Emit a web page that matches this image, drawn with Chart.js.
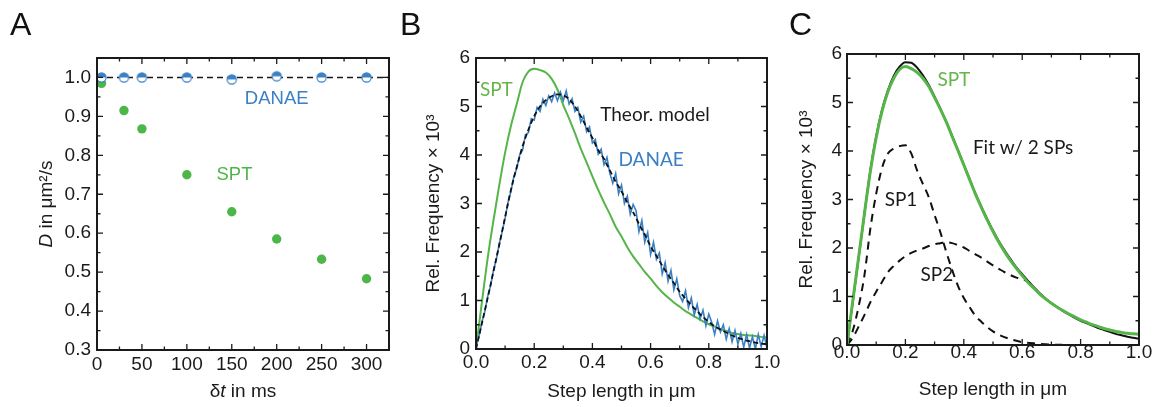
<!DOCTYPE html>
<html>
<head>
<meta charset="utf-8">
<script src="https://cdn.jsdelivr.net/npm/chart.js@4.4.1/dist/chart.umd.min.js"></script>
<style>
  html, body { margin: 0; padding: 0; background: #fff; }
  #wrap { position: relative; width: 1158px; height: 407px; overflow: hidden; }
  #wrap canvas { position: absolute; top: 0; }
  .lbl { position: absolute; top: 8px; font: 32px "Liberation Sans", Arial, sans-serif; line-height: 32px; color: #111; }
</style>
</head>
<body>
<div id="wrap">
  <canvas id="cA" width="395" height="407" style="left:0px"></canvas>
  <canvas id="cB" width="392" height="407" style="left:395px"></canvas>
  <canvas id="cC" width="383" height="407" style="left:775px"></canvas>
  <div class="lbl" style="left:10px">A</div>
  <div class="lbl" style="left:400px">B</div>
  <div class="lbl" style="left:789px">C</div>
</div>
<script>
// ---------- data ----------
// panel A: diffusion coefficient vs lag time
const lagMs    = [5, 30, 50, 100, 150, 200, 250, 300];
const dDanae   = [1.0, 1.0, 1.0, 1.0, 0.995, 1.003, 1.0, 1.0];
const dSpt     = [0.985, 0.915, 0.868, 0.75, 0.655, 0.585, 0.533, 0.483];
const dModel   = 1.0;
const limitsA  = { xMin: 0, xMax: 325, yMin: 0.3, yMax: 1.05 };

// shared step-length grids (µm)
const grid02 = [0,0.02,0.04,0.06,0.08,0.1,0.12,0.14,0.16,0.18,0.2,0.22,0.24,0.26,0.28,0.3,0.32,0.34,0.36,0.38,
  0.4,0.42,0.44,0.46,0.48,0.5,0.52,0.54,0.56,0.58,0.6,0.62,0.64,0.66,0.68,0.7,0.72,0.74,0.76,0.78,
  0.8,0.82,0.84,0.86,0.88,0.9,0.92,0.94,0.96,0.98,1];
const grid01 = [0,0.01,0.02,0.03,0.04,0.05,0.06,0.07,0.08,0.09,0.1,0.11,0.12,0.13,0.14,0.15,0.16,0.17,0.18,0.19,
  0.2,0.21,0.22,0.23,0.24,0.25,0.26,0.27,0.28,0.29,0.3,0.31,0.32,0.33,0.34,0.35,0.36,0.37,0.38,0.39,
  0.4,0.41,0.42,0.43,0.44,0.45,0.46,0.47,0.48,0.49,0.5,0.51,0.52,0.53,0.54,0.55,0.56,0.57,0.58,0.59,
  0.6,0.61,0.62,0.63,0.64,0.65,0.66,0.67,0.68,0.69,0.7,0.71,0.72,0.73,0.74,0.75,0.76,0.77,0.78,0.79,
  0.8,0.81,0.82,0.83,0.84,0.85,0.86,0.87,0.88,0.89,0.9,0.91,0.92,0.93,0.94,0.95,0.96,0.97,0.98,0.99,1];

// panel B: step length histograms (rel. frequency x 10^3)
const sptB = [0,0.95,1.87,2.65,3.38,4.05,4.6,5.05,5.5,5.72,5.78,5.75,5.7,5.57,5.35,5.03,4.75,4.45,4.13,3.85,
  3.56,3.28,3.02,2.78,2.52,2.32,2.1,1.91,1.75,1.59,1.45,1.3,1.17,1.06,0.96,0.87,0.78,0.71,0.64,0.57,
  0.51,0.46,0.41,0.37,0.33,0.31,0.29,0.28,0.27,0.25,0.24];
const theoryB = [0,0.52,1.05,1.6,2.15,2.72,3.28,3.75,4.18,4.52,4.8,5.0,5.13,5.21,5.25,5.23,5.15,5.0,4.8,4.57,
  4.35,4.1,3.92,3.68,3.45,3.25,3.02,2.82,2.58,2.36,2.12,1.92,1.72,1.53,1.36,1.18,1.04,0.9,0.78,0.66,
  0.56,0.47,0.4,0.34,0.28,0.23,0.19,0.16,0.13,0.11,0.1];
const danaeB = [0.05,0.25,0.55,0.76,1.08,1.3,1.62,1.85,2.17,2.42,
  2.7,3.02,3.25,3.55,3.72,4.0,4.1,4.42,4.46,4.75,
  4.72,4.98,4.9,5.15,5.02,5.22,5.1,5.28,5.12,5.3,
  5.12,5.32,5.05,5.16,4.9,4.98,4.68,4.8,4.48,4.58,
  4.25,4.32,4.02,4.12,3.8,3.95,3.62,3.42,3.62,3.2,
  3.38,3.0,3.15,2.78,2.98,2.85,2.42,2.65,2.2,2.4,
  1.95,2.2,1.85,1.98,1.55,1.78,1.4,1.62,1.22,1.45,
  1.1,0.98,1.2,0.85,1.05,0.7,0.92,0.62,0.8,0.48,
  0.72,0.55,0.3,0.58,0.35,0.5,0.2,0.42,0.15,0.38,
  0.1,0.32,0.04,0.3,0.02,0.25,0.0,0.3,0.05,0.28,0.02];

// panel C: SPT histogram with two-subpopulation fit
const sptC = [0,0.92,1.82,2.72,3.58,4.28,4.82,5.22,5.5,5.68,5.74,5.7,5.62,5.5,5.33,5.1,4.86,4.6,4.3,4.01,
  3.71,3.41,3.11,2.84,2.58,2.34,2.12,1.92,1.74,1.58,1.43,1.29,1.17,1.05,0.95,0.86,0.78,0.71,0.64,0.58,
  0.52,0.47,0.42,0.38,0.34,0.31,0.28,0.26,0.24,0.23,0.22];
const fitC = [0,0.9,1.8,2.72,3.6,4.3,4.85,5.25,5.55,5.74,5.83,5.82,5.72,5.56,5.36,5.12,4.87,4.6,4.31,4.02,
  3.72,3.42,3.12,2.85,2.6,2.36,2.14,1.95,1.77,1.6,1.46,1.32,1.19,1.07,0.96,0.86,0.78,0.7,0.63,0.56,
  0.5,0.45,0.4,0.35,0.31,0.27,0.23,0.2,0.17,0.15,0.13];
const sp1X = [0,0.02,0.04,0.06,0.08,0.1,0.12,0.14,0.16,0.18,0.2,0.22,0.24,0.26,0.28,0.3,0.32,0.34,0.36,0.38,
  0.4,0.42,0.44,0.46,0.48,0.5,0.52,0.56,0.6,0.65,0.7,0.75];
const sp1Y = [0,0.3,0.8,1.45,2.4,3.12,3.65,3.95,4.05,4.1,4.12,3.95,3.6,3.32,3.05,2.68,2.32,1.92,1.55,1.22,
  0.97,0.78,0.6,0.48,0.37,0.28,0.21,0.12,0.06,0.03,0.01,0];
const sp2X = [0,0.02,0.04,0.06,0.08,0.1,0.12,0.14,0.16,0.18,0.2,0.22,0.24,0.26,0.28,0.3,0.32,0.34,0.36,0.38,
  0.4,0.42,0.44,0.46,0.48,0.5,0.52,0.54,0.56,0.58,0.6,0.62,0.64];
const sp2Y = [0,0.15,0.38,0.62,0.88,1.1,1.3,1.5,1.63,1.74,1.83,1.9,1.95,1.99,2.04,2.08,2.1,2.12,2.1,2.06,
  2.01,1.94,1.87,1.8,1.72,1.64,1.57,1.5,1.44,1.39,1.35,1.31,1.19];

// ---------- styling ----------
const INK = "#1a1a1a";
const GREEN_PT = "#4cb649";
const GREEN_LN = "#55b548";
const GREEN_TX = "#66b44c";
const BLUE = "#3a80c5";
const SANS = '"Liberation Sans", Arial, sans-serif';
const HUMAN = 'Lato, "Open Sans", sans-serif';

Chart.defaults.font.family = SANS;
Chart.defaults.color = INK;

const pts = (xs, ys) => xs.map((x, i) => ({ x, y: ys[i] }));

// half-filled marker used by DANAE in panel A
function halfDot(r, col) {
  const c = document.createElement("canvas");
  const s = Math.ceil(2 * r + 3);
  c.width = c.height = s;
  const g = c.getContext("2d");
  const m = s / 2;
  g.fillStyle = "#fff";
  g.beginPath(); g.arc(m, m, r, 0, 2 * Math.PI); g.fill();
  g.fillStyle = col;
  g.beginPath(); g.arc(m, m, r, Math.PI, 2 * Math.PI); g.closePath(); g.fill();
  g.strokeStyle = col; g.lineWidth = 1.2;
  g.beginPath(); g.arc(m, m, r, 0, 2 * Math.PI); g.stroke();
  return c;
}

// box + inward major/minor ticks on all four sides
function framePlugin(f) {
  return {
    id: "frame",
    afterDatasetsDraw(chart) {
      const { ctx, chartArea: a, scales: { x, y } } = chart;
      ctx.save();
      ctx.strokeStyle = INK;
      ctx.lineWidth = 1.3;
      ctx.beginPath();
      for (let i = 0; f.x0 + i * f.xs <= f.x1 + 1e-9; i++) {
        const px = x.getPixelForValue(f.x0 + i * f.xs);
        const len = i % 2 === 0 ? 6 : 3.5;
        ctx.moveTo(px, a.bottom); ctx.lineTo(px, a.bottom - len);
        ctx.moveTo(px, a.top); ctx.lineTo(px, a.top + len);
      }
      for (let i = 0; f.y0 + i * f.ys <= f.y1 + 1e-9; i++) {
        const py = y.getPixelForValue(f.y0 + i * f.ys);
        const len = i % 2 === 0 ? 6 : 3.5;
        ctx.moveTo(a.left, py); ctx.lineTo(a.left + len, py);
        ctx.moveTo(a.right, py); ctx.lineTo(a.right - len, py);
      }
      ctx.stroke();
      ctx.lineWidth = 2;
      ctx.strokeRect(a.left, a.top, a.right - a.left, a.bottom - a.top);
      ctx.restore();
    }
  };
}

// text labels placed in data coordinates
function notesPlugin(items) {
  return {
    id: "notes",
    afterDraw(chart) {
      const { ctx, scales: { x, y } } = chart;
      ctx.save();
      ctx.textAlign = "center";
      ctx.textBaseline = "middle";
      items.forEach(n => {
        ctx.font = n.font;
        ctx.fillStyle = n.color;
        ctx.fillText(n.text, x.getPixelForValue(n.x), y.getPixelForValue(n.y));
      });
      ctx.restore();
    }
  };
}

function richText(ctx, parts, cx, cy) {
  let w = 0;
  parts.forEach(p => { ctx.font = p[1]; w += ctx.measureText(p[0]).width; });
  let xx = cx - w / 2;
  parts.forEach(p => { ctx.font = p[1]; ctx.fillText(p[0], xx, cy); xx += ctx.measureText(p[0]).width; });
}

// panel A titles need italics for D and t
const titlesA = {
  id: "titlesA",
  afterDraw(chart) {
    const { ctx, chartArea: a } = chart;
    const n = "19px " + SANS, it = "italic 19px " + SANS;
    ctx.save();
    ctx.fillStyle = INK;
    ctx.textAlign = "left";
    ctx.textBaseline = "middle";
    richText(ctx, [["δ", n], ["t", it], [" in ms", n]], (a.left + a.right) / 2, 392);
    ctx.translate(47, (a.top + a.bottom) / 2);
    ctx.rotate(-Math.PI / 2);
    richText(ctx, [["D", it], [" in μm²/s", n]], 0, 0);
    ctx.restore();
  }
};

const TICK_FONT = { size: 19, lineHeight: 1 };
const TITLE_FONT = { size: 19, lineHeight: 1.2 };

function baseOpts(g) {
  return {
    responsive: false,
    animation: false,
    events: [],
    layout: { padding: { left: g.padL, top: g.padT, right: g.padR, bottom: 0 } },
    plugins: { legend: { display: false }, tooltip: { enabled: false } },
    scales: {
      x: {
        type: "linear", min: g.xMin, max: g.xMax,
        grid: { display: false, drawTicks: false }, border: { display: false },
        ticks: { stepSize: g.xStep, includeBounds: false, padding: g.xPad, font: TICK_FONT, color: INK,
                 maxRotation: 0, autoSkip: false, callback: v => v.toFixed(g.xDec) },
        title: { display: !!g.xTitle, text: g.xTitle, font: TITLE_FONT, color: INK,
                 padding: { top: 0, bottom: g.xTitlePad } },
        afterFit: s => { s.height = g.xH; }
      },
      y: {
        type: "linear", min: g.yMin, max: g.yMax,
        grid: { display: false, drawTicks: false }, border: { display: false },
        ticks: { stepSize: g.yStep, includeBounds: false, padding: g.yPad, font: TICK_FONT, color: INK,
                 autoSkip: false, callback: v => v.toFixed(g.yDec) },
        title: { display: !!g.yTitle, text: g.yTitle, font: TITLE_FONT, color: INK,
                 padding: { top: 0, bottom: 0 } },
        afterFit: s => { s.width = g.yW; }
      }
    }
  };
}

// ================= A =================
new Chart(document.getElementById("cA"), {
  type: "scatter",
  data: {
    datasets: [
      { data: pts(lagMs, dDanae), pointStyle: halfDot(4.6, BLUE), pointRadius: 5 },
      { data: pts(lagMs, dSpt), pointStyle: "circle", pointRadius: 4.7,
        backgroundColor: GREEN_PT, borderWidth: 0 },
      { data: [{ x: limitsA.xMin, y: dModel }, { x: limitsA.xMax, y: dModel }], showLine: true,
        pointRadius: 0, borderColor: INK, borderWidth: 1.5, borderDash: [6, 4] }
    ]
  },
  options: baseOpts({
    padL: 36, padT: 58, padR: 6, yW: 61, xH: 57,
    xMin: limitsA.xMin, xMax: limitsA.xMax, xStep: 50, xDec: 0, xPad: 5.5,
    yMin: limitsA.yMin, yMax: limitsA.yMax, yStep: 0.1, yDec: 1, yPad: 6
  }),
  plugins: [
    framePlugin({ x0: 0, x1: 300, xs: 25, y0: 0.3, y1: 1.0, ys: 0.05 }),
    notesPlugin([
      { text: "DANAE", x: 200, y: 0.944, color: BLUE, font: "18.5px " + SANS },
      { text: "SPT", x: 153, y: 0.751, color: GREEN_PT, font: "18.5px " + SANS }
    ]),
    titlesA
  ]
});

// ================= B =================
const lineDs = (xs, ys, color, width, extra) =>
  Object.assign({ data: pts(xs, ys), showLine: true, pointRadius: 0, borderColor: color,
                  borderWidth: width, fill: false }, extra || {});

new Chart(document.getElementById("cB"), {
  type: "scatter",
  data: {
    datasets: [
      lineDs(grid02, theoryB, "#111", 1.8, { borderDash: [5, 3], cubicInterpolationMode: "monotone" }),
      lineDs(grid01, danaeB, BLUE, 1.6),
      lineDs(grid02, sptB, GREEN_LN, 2, { cubicInterpolationMode: "monotone" })
    ]
  },
  options: baseOpts({
    padL: 27, padT: 58, padR: 20, yW: 54, xH: 58,
    xMin: 0, xMax: 1, xStep: 0.2, xDec: 1, xPad: 4.5,
    yMin: 0, yMax: 6, yStep: 1, yDec: 0, yPad: 6,
    xTitle: "Step length in μm", xTitlePad: 3.6,
    yTitle: "Rel. Frequency × 10³"
  }),
  plugins: [
    framePlugin({ x0: 0, x1: 1, xs: 0.1, y0: 0, y1: 6, ys: 0.5 }),
    notesPlugin([
      { text: "SPT", x: 0.07, y: 5.34, color: GREEN_TX, font: "19px " + HUMAN },
      { text: "Theor. model", x: 0.615, y: 4.83, color: INK, font: "19px " + HUMAN },
      { text: "DANAE", x: 0.602, y: 3.9, color: BLUE, font: "19px " + HUMAN }
    ])
  ]
});

// ================= C =================
new Chart(document.getElementById("cC"), {
  type: "scatter",
  data: {
    datasets: [
      lineDs(grid02, sptC, GREEN_LN, 3, { cubicInterpolationMode: "monotone" }),
      lineDs(grid02, fitC, "#111", 2, { cubicInterpolationMode: "monotone" }),
      lineDs(sp1X, sp1Y, "#111", 2, { borderDash: [8, 6], cubicInterpolationMode: "monotone" }),
      lineDs(sp2X, sp2Y, "#111", 2, { borderDash: [8, 6], cubicInterpolationMode: "monotone" })
    ]
  },
  options: baseOpts({
    padL: 20, padT: 54, padR: 19, yW: 52, xH: 62,
    xMin: 0, xMax: 1, xStep: 0.2, xDec: 1, xPad: -1.8,
    yMin: 0, yMax: 6, yStep: 1, yDec: 0, yPad: 5,
    xTitle: "Step length in μm", xTitlePad: 5.6,
    yTitle: "Rel. Frequency × 10³"
  }),
  plugins: [
    framePlugin({ x0: 0, x1: 1, xs: 0.1, y0: 0, y1: 6, ys: 0.5 }),
    notesPlugin([
      { text: "SPT", x: 0.366, y: 5.46, color: GREEN_TX, font: "19px " + HUMAN },
      { text: "Fit w/ 2 SPs", x: 0.603, y: 4.06, color: INK, font: "19px " + HUMAN },
      { text: "SP1", x: 0.185, y: 3.0, color: INK, font: "19px " + HUMAN },
      { text: "SP2", x: 0.308, y: 1.44, color: INK, font: "19px " + HUMAN }
    ])
  ]
});
</script>
</body>
</html>
